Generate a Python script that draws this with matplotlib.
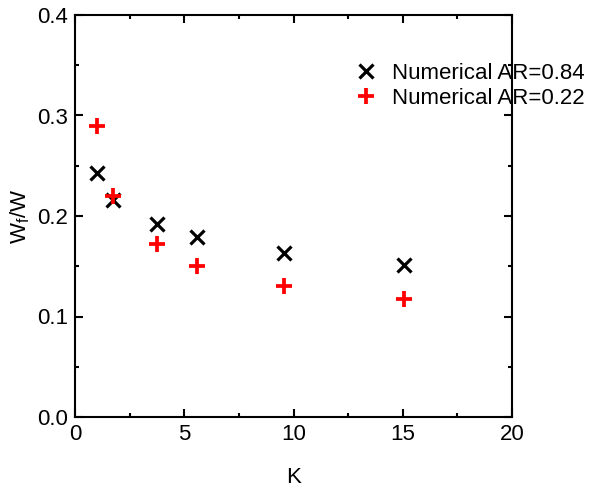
import matplotlib

matplotlib.use("Agg")

import matplotlib.pyplot as plt
from matplotlib.ticker import FormatStrFormatter, MultipleLocator

plt.rcParams["font.family"] = ["Liberation Sans", "DejaVu Sans"]

K = [1.0, 1.75, 3.75, 5.6, 9.55, 15.05]
WF_AR084 = [0.243, 0.216, 0.192, 0.179, 0.163, 0.151]
WF_AR022 = [0.290, 0.220, 0.172, 0.150, 0.130, 0.117]
LABELS = ["Numerical AR=0.84", "Numerical AR=0.22"]

FS = 16


def main() -> None:
    fig = plt.figure(figsize=(6.11, 4.91), dpi=100)
    ax = fig.add_axes([75 / 611, 1 - 417 / 491, (512 - 75) / 611, (417 - 15) / 491])

    ax.plot(K, WF_AR084, linestyle="none", marker="x", color="black",
            markersize=10, markeredgewidth=2.3, label=LABELS[0])
    ax.plot(K, WF_AR022, linestyle="none", marker="+", color="#ff0000",
            markersize=12, markeredgewidth=2.7, label=LABELS[1])

    ax.set_xlim(0, 20)
    ax.set_ylim(0, 0.4)
    ax.xaxis.set_major_locator(MultipleLocator(5))
    ax.xaxis.set_minor_locator(MultipleLocator(2.5))
    ax.yaxis.set_major_locator(MultipleLocator(0.1))
    ax.yaxis.set_minor_locator(MultipleLocator(0.05))
    ax.yaxis.set_major_formatter(FormatStrFormatter("%.1f"))

    ax.tick_params(which="both", direction="in", top=True, right=True,
                   labelsize=FS, width=1.5)
    ax.tick_params(which="major", length=6, pad=5)
    ax.tick_params(which="minor", length=3)
    for spine in ax.spines.values():
        spine.set_linewidth(1.5)

    ax.set_xlabel("K", fontsize=FS, labelpad=16)
    ax.set_ylabel(r"W$_\mathregular{f}$/W", fontsize=FS, labelpad=4)

    ax.legend(loc="upper left", bbox_to_anchor=(0.641, 0.88), frameon=False,
              fontsize=FS, handlelength=1.0, handletextpad=0.65,
              labelspacing=0.15, borderaxespad=0.0, borderpad=0.0)

    fig.savefig("out.png", dpi=100)
    plt.close(fig)


if __name__ == "__main__":
    main()
